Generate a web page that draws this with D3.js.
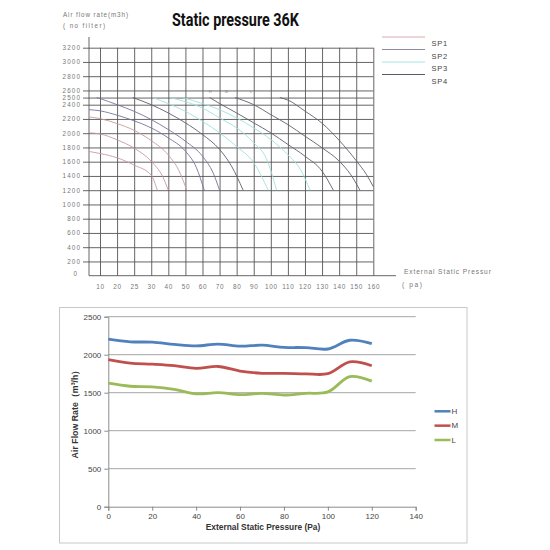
<!DOCTYPE html>
<html><head><meta charset="utf-8">
<script src="https://cdn.jsdelivr.net/npm/d3@7"></script>
<style>body{margin:0;background:#fff} svg{display:block}</style>
</head><body>
<svg id="c" width="550" height="550"></svg>
<script>
// ---------- Top chart data ----------
const topXLabels = ["10","20","25","30","40","50","60","70","80","90","100","110","120","130","140","150","160"];
const topYTicks = [0,200,400,600,800,1000,1200,1400,1600,1800,2000,2200,2400,2500,2600,2800,3000,3200];
const legendNames = ["SP1","SP2","SP3","SP4"];
// fan curves: [pressure Pa, airflow m3/h]
const curve1 = [[0,1744],[10,1715],[20,1655],[25,1552],[30,1410],[33.5,1200]];
const curve2 = [[0,2005],[10,1990],[20,1907],[25,1790],[30,1605],[36.7,1390],[40,1200]];
const curve3 = [[0,2228],[10,2205],[20,2135],[25,2040],[30,1896],[40,1694],[46.6,1455],[50.8,1200]];
const curve4 = [[0,2330],[10,2314],[20,2253],[25,2174],[30,2074],[40,1934],[50,1748],[56.5,1514],[61,1200]];
const curve5 = [[7,2500],[10,2486],[20,2400],[25,2307],[30,2191],[40,2051],[50,1888],[60,1677],[66.2,1444],[70,1200]];
const curve6 = [[24.6,2500],[30,2400],[40,2284],[50,2145],[60,1981],[70,1772],[77,1538],[83.8,1200]];
const curve7 = [[31,2500],[40,2416],[50,2307],[60,2167],[70,2005],[80,1814],[90,1586],[98.5,1200]];
const curve8 = [[41,2500],[50,2442],[60,2353],[70,2214],[80,2074],[90,1865],[97.6,1633],[103.4,1200]];
const curve9 = [[48.6,2500],[60,2416],[70,2330],[80,2214],[90,2074],[100,1912],[110,1698],[117.4,1488],[123,1200]];
const curve10 = [[64.2,2500],[70,2416],[80,2284],[90,2145],[100,2005],[110,1842],[120,1677],[130,1467],[136.6,1200]];
const curve11 = [[79,2500],[90,2400],[100,2260],[110,2121],[120,1958],[130,1795],[140,1609],[146.7,1421],[152.2,1200]];
const curve12 = [[105.3,2500],[110,2465],[120,2310],[130,2140],[140,1900],[150,1615],[156,1420],[160,1250]];
const topCurves = [curve1,curve2,curve3,curve4,curve5,curve6,curve7,curve8,curve9,curve10,curve11,curve12];
const curveSeries = ["SP1","SP1","SP1","SP2","SP2","SP4","SP3","SP3","SP3","SP4","SP4","SP4"];
const markerLabels = ["H","M","L"];
const markerPressures = [64.5, 74, 88.5];

// ---------- Bottom chart data ----------
const bottomX = [0,10,20,30,40,50,60,70,80,90,100,110,120];
const seriesH = [2205,2170,2165,2135,2115,2140,2112,2125,2097,2093,2075,2190,2145];
const seriesM = [1935,1890,1875,1855,1820,1845,1785,1755,1755,1748,1750,1905,1855];
const seriesL = [1625,1585,1578,1545,1485,1500,1475,1490,1470,1492,1510,1712,1652];
const bottomNames = ["H","M","L"];
const bottomYTicks = [0,500,1000,1500,2000,2500];
const bottomXTicks = [0,20,40,60,80,100,120,140];

const svg = d3.select("#c");
const FONT = "'Liberation Sans', Arial, sans-serif";

// ================= TOP CHART =================
const spColor = {SP1:"#c79aa3", SP2:"#77739c", SP3:"#9fe1dc", SP4:"#5f5f6e"};
const spLegendColor = {SP1:"#d9a9b1", SP2:"#8f8aa3", SP3:"#a6e6e2", SP4:"#5a5a66"};

const yTop = d3.scaleLinear().domain([0,3200]).range([275.7,47.7]);
const xPt = d3.scalePoint().domain(topXLabels).range([100,373.3]);
const xTop = d3.scaleLinear()
  .domain([0, ...topXLabels.map(Number)])
  .range([89, ...topXLabels.map(l => xPt(l))]);

const gTop = svg.append("g");
const gridColor = "#555";

// horizontal grid lines (via left axis)
const yAxisTop = gTop.append("g").attr("transform","translate(89,0)")
  .call(d3.axisLeft(yTop).tickValues(topYTicks.filter(v=>v>0)).tickSize(0).tickFormat(d=>d));
yAxisTop.select(".domain").remove();
yAxisTop.selectAll(".tick line").attr("x1",-6).attr("x2",373.3-89).attr("stroke",gridColor).attr("stroke-width",0.9);
yAxisTop.selectAll(".tick text").attr("x",-8).attr("fill","#777").style("font-family",FONT).style("font-size","6.3px").style("letter-spacing","1.1px");
// zero label
gTop.append("text").attr("x",77).attr("y",yTop(0)).attr("dy","0.1em").attr("text-anchor","end")
  .attr("fill","#777").style("font-family",FONT).style("font-size","6.3px").text("0");

// vertical grid lines + x labels
const xAxisTop = gTop.append("g").attr("transform",`translate(0,${yTop(0)})`)
  .call(d3.axisBottom(xPt).tickSize(0));
xAxisTop.select(".domain").remove();
xAxisTop.selectAll(".tick line").attr("y1",0).attr("y2",yTop(3200)-yTop(0)).attr("stroke",gridColor).attr("stroke-width",0.9);
xAxisTop.selectAll(".tick text").attr("y",9).attr("fill","#777").style("font-family",FONT).style("font-size","6.4px").style("letter-spacing","0.7px");

// axes lines
gTop.append("line").attr("x1",89).attr("x2",89).attr("y1",37).attr("y2",yTop(0)).attr("stroke",gridColor).attr("stroke-width",0.9);
gTop.append("line").attr("x1",89).attr("x2",396).attr("y1",yTop(0)).attr("y2",yTop(0)).attr("stroke",gridColor).attr("stroke-width",0.9);

// curves
const topLine = d3.line().x(d=>xTop(d[0])).y(d=>yTop(d[1])).curve(d3.curveMonotoneX);
gTop.append("g").selectAll("path").data(topCurves).join("path")
  .attr("d", topLine).attr("fill","none")
  .attr("stroke",(d,i)=>spColor[curveSeries[i]]).attr("stroke-width",0.9);

// small markers H M L
gTop.append("g").selectAll("text").data(markerLabels).join("text")
  .attr("x",(d,i)=>xTop(markerPressures[i])).attr("y",yTop(2560))
  .attr("text-anchor","middle").attr("fill","#888").style("font-family",FONT).style("font-size","4px").text(d=>d);

// title
gTop.append("text").attr("x",172).attr("y",26)
  .attr("textLength",127).attr("lengthAdjust","spacingAndGlyphs")
  .style("font-family","Roboto, 'DejaVu Sans', sans-serif")
  .style("font-weight","bold").style("font-size","18px").attr("fill","#111").text("Static pressure 36K");
gTop.append("text").attr("x",63).attr("y",16.5).attr("fill","#777").style("font-family",FONT)
  .style("font-size","6.3px").style("letter-spacing","0.9px").text("Air flow rate(m3h)");
gTop.append("text").attr("x",63).attr("y",28).attr("fill","#777").style("font-family",FONT)
  .style("font-size","6.3px").style("letter-spacing","1.4px").text("( no filter)");
gTop.append("text").attr("x",404).attr("y",273.5).attr("fill","#777").style("font-family",FONT)
  .style("font-size","6.6px").style("letter-spacing","0.9px").text("External Static Pressur");
gTop.append("text").attr("x",402).attr("y",286.5).attr("fill","#777").style("font-family",FONT)
  .style("font-size","6.6px").style("letter-spacing","1.6px").text("( pa)");

// legend
const legY = d3.scalePoint().domain(legendNames).range([37,74.5]);
const lg = gTop.append("g");
lg.selectAll("line").data(legendNames).join("line")
  .attr("x1",382).attr("x2",425).attr("y1",d=>legY(d)).attr("y2",d=>legY(d))
  .attr("stroke",d=>spLegendColor[d]).attr("stroke-width",1);
lg.selectAll("text").data(legendNames).join("text")
  .attr("x",431.5).attr("y",d=>legY(d)+9).attr("fill","#444").style("font-family",FONT)
  .style("font-size","7.5px").style("letter-spacing","0.8px").text(d=>d);

// ================= BOTTOM CHART =================
const bot = svg.append("g");
bot.append("rect").attr("x",59.5).attr("y",307.5).attr("width",407.5).attr("height",235.5)
  .attr("fill","none").attr("stroke","#c8c8c8").attr("stroke-width",1);

const xB = d3.scaleLinear().domain([0,140]).range([108.3,415.7]);
const yB = d3.scaleLinear().domain([0,2500]).range([506.7,316.7]);

// gridlines
bot.append("g").selectAll("line").data(bottomYTicks.filter(v=>v>0)).join("line")
  .attr("x1",xB(0)).attr("x2",xB(140)).attr("y1",d=>yB(d)).attr("y2",d=>yB(d))
  .attr("stroke","#a6a6a6").attr("stroke-width",1);

const yAxB = bot.append("g").attr("transform",`translate(${xB(0)},0)`)
  .call(d3.axisLeft(yB).tickValues(bottomYTicks).tickFormat(d3.format("d")).tickSize(4).tickPadding(3));
const xAxB = bot.append("g").attr("transform",`translate(0,${yB(0)})`)
  .call(d3.axisBottom(xB).tickValues(bottomXTicks).tickFormat(d3.format("d")).tickSize(4).tickPadding(3));
[yAxB,xAxB].forEach(a=>{
  a.select(".domain").attr("stroke","#8c8c8c");
  a.selectAll(".tick line").attr("stroke","#8c8c8c");
  a.selectAll(".tick text").attr("fill","#444").style("font-family",FONT).style("font-size","8px");
});

const bLine = d3.line().x((d,i)=>xB(bottomX[i])).y(d=>yB(d)).curve(d3.curveCatmullRom.alpha(0.5));
const bSeries = [seriesH, seriesM, seriesL];
const bColors = ["#4f81bd","#c0504d","#9bbb59"];
bot.append("g").selectAll("path").data(bSeries).join("path")
  .attr("d",bLine).attr("fill","none").attr("stroke",(d,i)=>bColors[i])
  .attr("stroke-width",2.8).attr("stroke-linejoin","round");

// legend
const bLegY = d3.scalePoint().domain(bottomNames).range([411.3,440]);
const bl = bot.append("g");
bl.selectAll("line").data(bottomNames).join("line")
  .attr("x1",434.5).attr("x2",450.5).attr("y1",d=>bLegY(d)).attr("y2",d=>bLegY(d))
  .attr("stroke",(d,i)=>bColors[i]).attr("stroke-width",2.5);
bl.selectAll("text").data(bottomNames).join("text")
  .attr("x",451.5).attr("y",d=>bLegY(d)).attr("dy","0.35em").attr("fill","#444")
  .style("font-family",FONT).style("font-size","8px").text(d=>d);

// axis titles
bot.append("text").attr("x",263).attr("y",530).attr("text-anchor","middle")
  .style("font-family",FONT).style("font-weight","bold").style("font-size","8.4px").attr("fill","#333")
  .text("External Static Pressure (Pa)");
bot.append("text").attr("transform","translate(78,412) rotate(-90)").attr("text-anchor","middle")
  .style("font-family",FONT).style("font-weight","bold").style("font-size","8.8px").attr("fill","#333")
  .text("Air Flow Rate（m³/h）");
</script>
</body></html>
